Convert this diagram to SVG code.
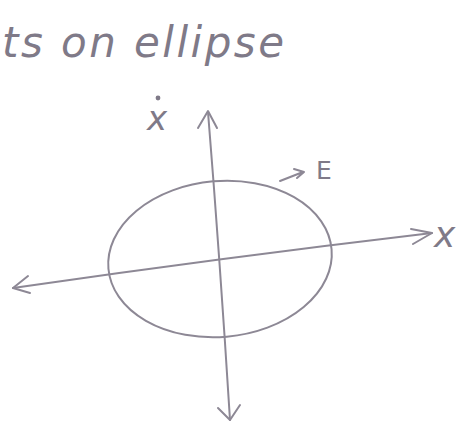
<svg xmlns="http://www.w3.org/2000/svg" width="471" height="432" viewBox="0 0 471 432">
<style>
.s{fill:none;stroke:#8d8895;stroke-width:2;stroke-linecap:round;stroke-linejoin:round}
.t{fill:#7f7a88;font-family:"DejaVu Sans",sans-serif;font-style:italic}
</style>
<rect width="471" height="432" fill="#fff"/>
<text class="t" x="2" y="57" font-size="42" textLength="282" lengthAdjust="spacing">ts  on ellipse</text>
<g id="connectors">
<path class="s" d="M208,112 Q220,260 230,420"/>
<path class="s" d="M198,128 L208,111 L217,128"/>
<path class="s" d="M218,408 L230,420 L240,405"/>
<path class="s" d="M13,288 Q220,258 432,233"/>
<path class="s" d="M28,276 L13,288 L30,293"/>
<path class="s" d="M411,229 L432,233 L413,244"/>
<path class="s" d="M280,181 L303,172 M294,169 L304,172 L297,178"/>
</g>
<g id="ellipse">
<ellipse class="s" cx="220" cy="259" rx="112" ry="78" transform="rotate(-5 220 259)"/>
</g>
<g id="labels">
<text class="t" x="147" y="130" font-size="34">x</text>
<circle cx="158" cy="98" r="2.4" fill="#7f7a88"/>
<text class="t" x="316" y="179" font-size="25" style="font-style:normal">E</text>
<text class="t" x="434" y="247" font-size="36">x</text>
</g>
</svg>
